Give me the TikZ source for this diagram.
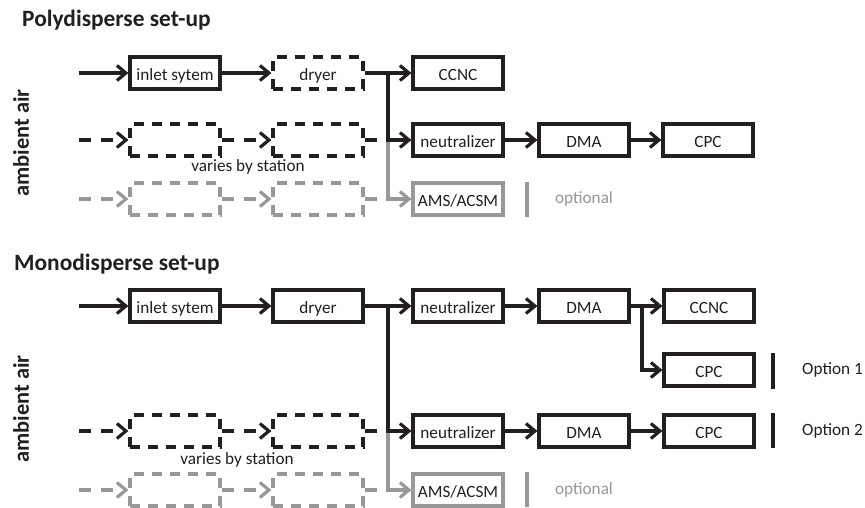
\documentclass[tikz,border=0pt]{standalone}
\usepackage{fontspec}
\setmainfont{Carlito}
\usetikzlibrary{arrows.meta}

\definecolor{ink}{RGB}{35,31,32}
\definecolor{faded}{RGB}{152,152,152}

\tikzset{
	box/.style={draw=ink, line width=3.2pt, minimum width=90pt, minimum height=32pt, inner sep=0pt, text=ink, text height=15pt, text depth=0pt, font=\fontsize{17.2}{20}\selectfont},
	dbox/.style={box, dash pattern=on 10pt off 8pt},
	gbox/.style={box, draw=faded},
	gdbox/.style={dbox, draw=faded},
	flow/.style={draw=ink, line width=3.2pt, -{Straight Barb[length=9pt,width=15pt]}},
	dflow/.style={flow, dash pattern=on 12pt off 10pt},
	gflow/.style={flow, draw=faded},
	gdflow/.style={dflow, draw=faded},
	wire/.style={draw=ink, line width=3.2pt},
	dwire/.style={wire, dash pattern=on 12pt off 10pt},
	gdwire/.style={dwire, draw=faded},
	sep/.style={draw=ink, line width=3.2pt},
	gsep/.style={sep, draw=faded},
	note/.style={inner sep=0pt, text=ink, font=\fontsize{17.2}{20}\selectfont},
	gnote/.style={note, text=faded},
	heading/.style={inner sep=0pt, anchor=base west, text=ink, font=\bfseries\fontsize{23.4}{28}\selectfont},
	side/.style={inner sep=0pt, rotate=90, text=ink, font=\bfseries\fontsize{22.4}{26}\selectfont}
}

\begin{document}
\begin{tikzpicture}[x=1pt, y=-1pt]
			\fill[white] (0,0) rectangle (865,508);
			\useasboundingbox (0,0) rectangle (865,508);

			%%%%% POLYDISPERSE %%%%%

			\node[heading] (titleP) at (22,27) {Polydisperse set-up};
			\node[side] (airP) at (21,143) {ambient air};

			\node[box] (inletP) at (175,73) {inlet sytem};
			\node[dbox] (dryerP) at (318,73) {dryer};
			\node[box] (ccncP) at (458,73) {CCNC};
			\node[dbox] (varAP) at (175,140) {};
			\node[dbox] (varBP) at (318,140) {};
			\node[box] (neutP) at (458,140) {neutralizer};
			\node[box] (dmaP) at (584,140) {DMA};
			\node[box] (cpcP) at (708,140) {CPC};
			\node[gdbox] (optAP) at (175,199) {};
			\node[gdbox] (optBP) at (318,199) {};
			\node[gbox] (amsP) at (458,199) {AMS/ACSM};

			\coordinate (inP1) at (79,73);
			\coordinate (inP2) at (79,140);
			\coordinate (inP3) at (79,199);
			\coordinate (stubP2) at (377,140);
			\coordinate (stubP3) at (377,199);
			\coordinate (jP1) at (388,73);
			\coordinate (jP2) at (388,140);

			\draw[flow] (inP1) -- (inletP);
			\draw[flow] (inletP) -- (dryerP);
			\draw[flow] (dryerP) -- (ccncP);
			\draw[gflow] (jP2) |- (amsP);
			\draw[flow] (jP1) |- (neutP);
			\draw[flow] (neutP) -- (dmaP);
			\draw[flow] (dmaP) -- (cpcP);

			\draw[dflow] (inP2) -- (varAP);
			\draw[dflow] (varAP) -- (varBP);
			\draw[dwire] (varBP) -- (stubP2);
			\draw[gdflow] (inP3) -- (optAP);
			\draw[gdflow] (optAP) -- (optBP);
			\draw[gdwire] (optBP) -- (stubP3);

			\node[note] (variesP) at (248,167) {varies by station};
			\draw[gsep] (527,182) -- (527,217);
			\node[gnote] (optionalP) at (584,199) {optional};

			%%%%% MONODISPERSE %%%%%

			\node[heading] (titleM) at (14,270) {Monodisperse set-up};
			\node[side] (airM) at (21,409) {ambient air};

			\node[box] (inletM) at (175,306) {inlet sytem};
			\node[box] (dryerM) at (318,306) {dryer};
			\node[box] (neutM) at (458,306) {neutralizer};
			\node[box] (dmaM) at (584,306) {DMA};
			\node[box] (ccncM) at (709,306) {CCNC};
			\node[box] (cpcM) at (709,370) {CPC};
			\node[dbox] (varAM) at (175,431) {};
			\node[dbox] (varBM) at (318,431) {};
			\node[box] (neutM2) at (458,431) {neutralizer};
			\node[box] (dmaM2) at (584,431) {DMA};
			\node[box] (cpcM2) at (709,431) {CPC};
			\node[gdbox] (optAM) at (175,490) {};
			\node[gdbox] (optBM) at (318,490) {};
			\node[gbox] (amsM) at (458,490) {AMS/ACSM};

			\coordinate (inM1) at (79,306);
			\coordinate (inM2) at (79,431);
			\coordinate (inM3) at (79,490);
			\coordinate (stubM2) at (377,431);
			\coordinate (stubM3) at (377,490);
			\coordinate (jM1) at (388,306);
			\coordinate (jM2) at (388,431);
			\coordinate (kM) at (642,306);

			\draw[flow] (inM1) -- (inletM);
			\draw[flow] (inletM) -- (dryerM);
			\draw[flow] (dryerM) -- (neutM);
			\draw[flow] (neutM) -- (dmaM);
			\draw[flow] (dmaM) -- (ccncM);
			\draw[flow] (kM) |- (cpcM);
			\draw[gflow] (jM2) |- (amsM);
			\draw[flow] (jM1) |- (neutM2);
			\draw[flow] (neutM2) -- (dmaM2);
			\draw[flow] (dmaM2) -- (cpcM2);

			\draw[dflow] (inM2) -- (varAM);
			\draw[dflow] (varAM) -- (varBM);
			\draw[dwire] (varBM) -- (stubM2);
			\draw[gdflow] (inM3) -- (optAM);
			\draw[gdflow] (optAM) -- (optBM);
			\draw[gdwire] (optBM) -- (stubM3);

			\node[note] (variesM) at (237,460) {varies by station};
			\draw[sep] (773,353) -- (773,389);
			\node[note, anchor=west] (opt1) at (802,370) {Option 1};
			\draw[sep] (773,413) -- (773,448);
			\node[note, anchor=west] (opt2) at (802,431) {Option 2};
			\draw[gsep] (527,472) -- (527,507);
			\node[gnote] (optionalM) at (584,490) {optional};
\end{tikzpicture}
\end{document}
